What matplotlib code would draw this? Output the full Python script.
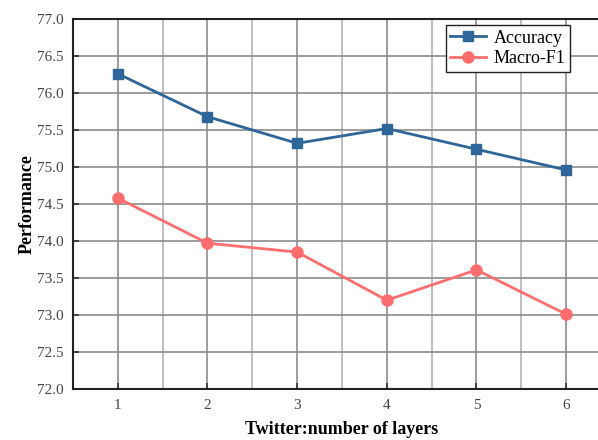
import numpy as np
import matplotlib
matplotlib.use("Agg")
import matplotlib.pyplot as plt
from matplotlib.ticker import MultipleLocator

# -----------------------------------------------------------------------------
# Data
# -----------------------------------------------------------------------------
layers = [1, 2, 3, 4, 5, 6]
accuracy = [76.26, 75.68, 75.32, 75.52, 75.24, 74.96]
macro_f1 = [74.58, 73.97, 73.85, 73.20, 73.61, 73.01]

plt.rcParams["font.family"] = ["Liberation Serif", "DejaVu Serif"]

fig = plt.figure(figsize=(5.98, 4.40), dpi=100)
# axes runs past the right edge of the image, as in the reference
ax = fig.add_axes([73 / 598, 1 - 389 / 440, 538 / 598, 370 / 440])

ax.plot(layers, accuracy, color="#2f6699", lw=2, marker="s", ms=7,
        label="Accuracy", zorder=3)
ax.plot(layers, macro_f1, color="#ff6e6e", lw=2, marker="o", ms=8,
        label="Macro-F1", zorder=3)

ax.set_xlim(0.5, 6.5)
ax.set_ylim(72.0, 77.0)
ax.xaxis.set_major_locator(MultipleLocator(1))
ax.xaxis.set_minor_locator(MultipleLocator(0.5))
ax.yaxis.set_major_locator(MultipleLocator(0.5))
ax.yaxis.set_major_formatter(matplotlib.ticker.FormatStrFormatter("%.1f"))

ax.grid(which="major", color="#8c8c8c", lw=1.2)
ax.grid(which="minor", axis="x", color="#b4b4b4", lw=1.2)
ax.tick_params(which="major", direction="in", length=4, width=1.2,
               labelsize=11, colors="#333333", labelcolor="#444444", pad=7)
ax.tick_params(which="minor", length=0)
for s in ax.spines.values():
    s.set_linewidth(1.5)
    s.set_color("#222222")

ax.set_xlabel("Twitter:number of layers", fontsize=13, fontweight="bold",
              labelpad=7)
ax.set_ylabel("Performance", fontsize=13, fontweight="bold", labelpad=1)

leg = ax.legend(loc="upper right", bbox_to_anchor=(570 / 598, 1 - 25 / 440),
                bbox_transform=fig.transFigure, fontsize=13, fancybox=False,
                framealpha=1, edgecolor="#222222", borderpad=0.25,
                handlelength=2.0, handletextpad=0.4, labelspacing=0.2,
                borderaxespad=0)
leg.get_frame().set_linewidth(1.0)

fig.savefig("out.png", dpi=100)
